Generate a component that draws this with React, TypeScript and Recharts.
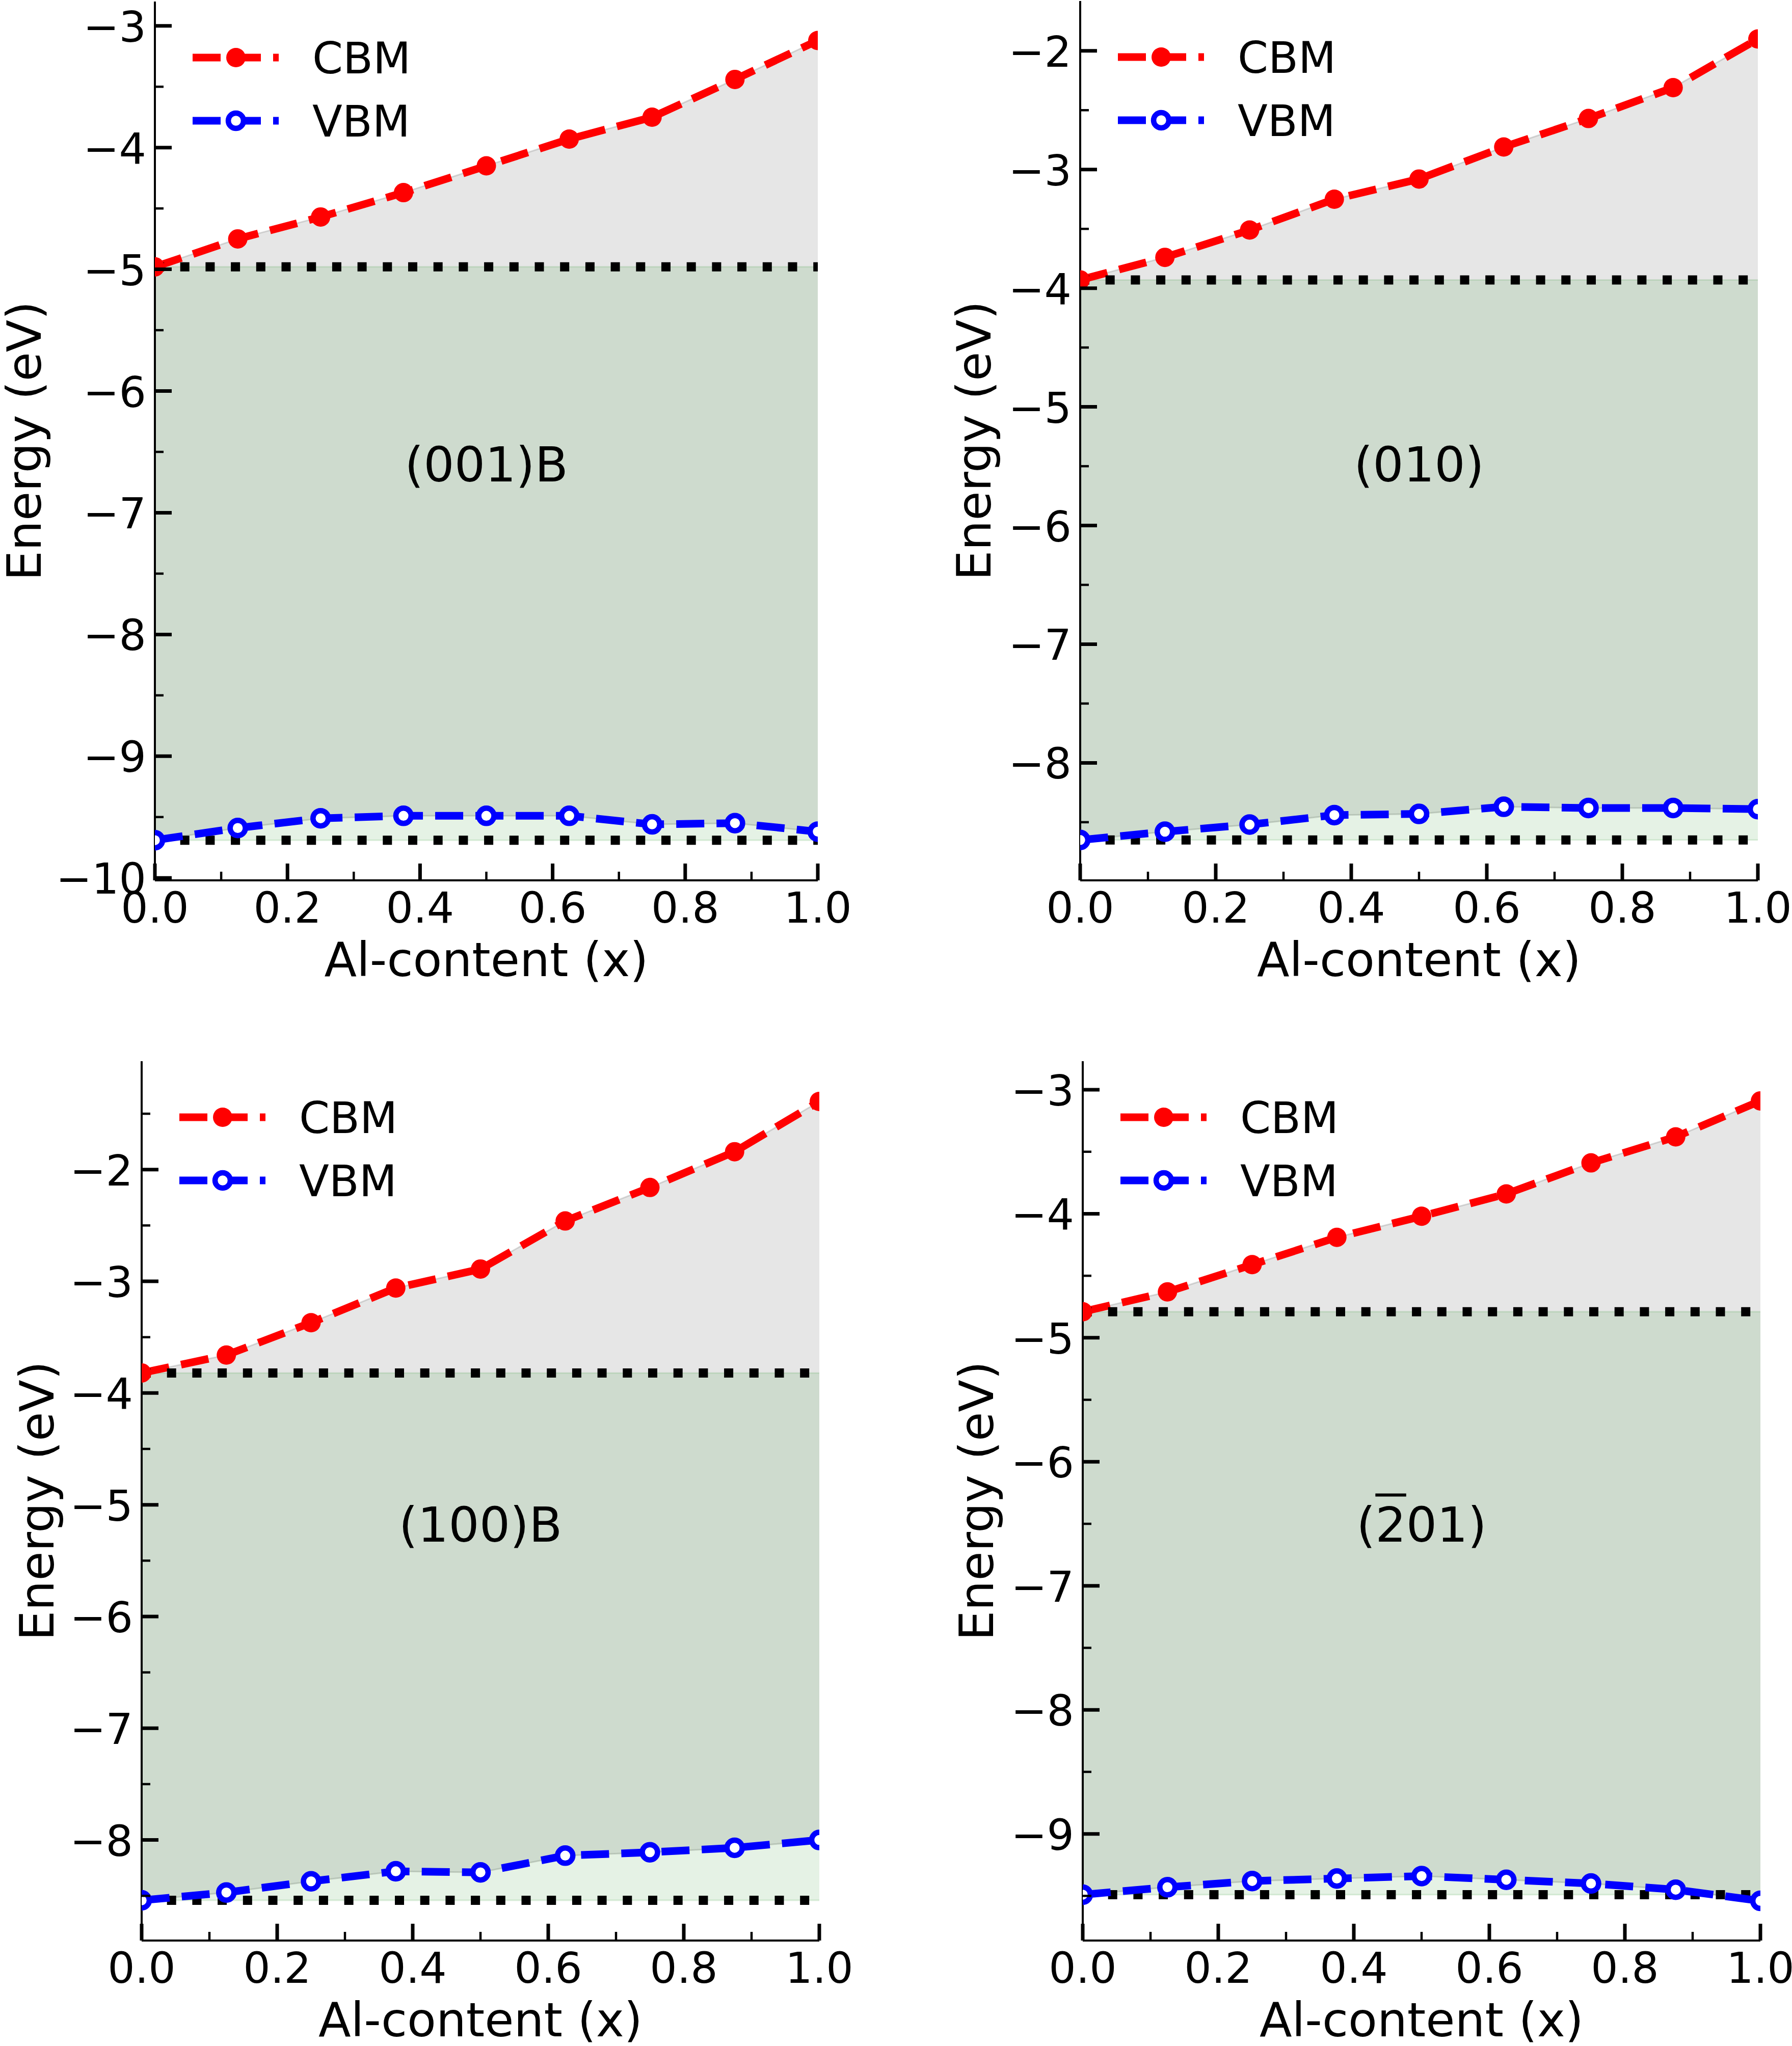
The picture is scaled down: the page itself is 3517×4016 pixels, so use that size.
import React from "react"
import { ComposedChart, Area, Line, XAxis, YAxis, Legend, Label } from "recharts"

// Al-content x for the (AlxGa1-x)2O3 supercells
const AL_CONTENT = [0, 0.125, 0.25, 0.375, 0.5, 0.625, 0.75, 0.875, 1]

// band edges (eV) per surface
const CBM_001B = [-4.98, -4.75, -4.57, -4.37, -4.15, -3.93, -3.75, -3.44, -3.12]
const VBM_001B = [-9.69, -9.59, -9.51, -9.49, -9.49, -9.49, -9.56, -9.55, -9.62]

const CBM_010 = [-3.93, -3.74, -3.51, -3.25, -3.08, -2.81, -2.57, -2.31, -1.9]
const VBM_010 = [-8.65, -8.58, -8.52, -8.44, -8.43, -8.37, -8.38, -8.38, -8.39]

const CBM_100B = [-3.82, -3.66, -3.37, -3.06, -2.89, -2.46, -2.16, -1.84, -1.39]
const VBM_100B = [-8.54, -8.47, -8.37, -8.28, -8.29, -8.14, -8.11, -8.07, -8.0]

const CBM_201 = [-4.79, -4.63, -4.41, -4.19, -4.02, -3.84, -3.59, -3.38, -3.09]
const VBM_201 = [-9.49, -9.43, -9.38, -9.36, -9.34, -9.37, -9.4, -9.45, -9.54]

// axis ranges and ticks (majors every 0.2 / 1, minors in between)
const X_TICKS = [0, 0.1, 0.2, 0.3, 0.4, 0.5, 0.6, 0.7, 0.8, 0.9, 1]

const Y_DOMAIN_001B: [number, number] = [-10.02, -2.8]
const Y_TICKS_001B = [-10, -9.5, -9, -8.5, -8, -7.5, -7, -6.5, -6, -5.5, -5, -4.5, -4, -3.5, -3]

const Y_DOMAIN_010: [number, number] = [-8.99, -1.58]
const Y_TICKS_010 = [-8.5, -8, -7.5, -7, -6.5, -6, -5.5, -5, -4.5, -4, -3.5, -3, -2.5, -2]

const Y_DOMAIN_100B: [number, number] = [-8.9, -1.03]
const Y_TICKS_100B = [-8.5, -8, -7.5, -7, -6.5, -6, -5.5, -5, -4.5, -4, -3.5, -3, -2.5, -2, -1.5]

const Y_DOMAIN_201: [number, number] = [-9.86, -2.77]
const Y_TICKS_201 = [-9.5, -9, -8.5, -8, -7.5, -7, -6.5, -6, -5.5, -5, -4.5, -4, -3.5, -3]

const FONT = '"DejaVu Sans", "Liberation Sans", sans-serif'
const RED = "#ff0000"
const BLUE = "#0000ff"
const AXIS_LINE = { stroke: "#000", strokeWidth: 4 }

const PAD_L = 340
const PAD_T = 50
const PAD_R = 90
const PAD_B = 240

type PanelCfg = {
  id: string
  title: React.ReactNode
  cbm: number[]
  vbm: number[]
  yDomain: [number, number]
  yTicks: number[]
  left: number
  top: number
  width: number
  height: number
  yLabelGap: number
}

const PANELS: PanelCfg[] = [
  {
    id: "001B",
    title: "(001)B",
    cbm: CBM_001B,
    vbm: VBM_001B,
    yDomain: Y_DOMAIN_001B,
    yTicks: Y_TICKS_001B,
    left: 304,
    top: 2.5,
    width: 1301,
    height: 1725,
    yLabelGap: 224,
  },
  {
    id: "010",
    title: "(010)",
    cbm: CBM_010,
    vbm: VBM_010,
    yDomain: Y_DOMAIN_010,
    yTicks: Y_TICKS_010,
    left: 2120,
    top: 2,
    width: 1330,
    height: 1726,
    yLabelGap: 176,
  },
  {
    id: "100B",
    title: "(100)B",
    cbm: CBM_100B,
    vbm: VBM_100B,
    yDomain: Y_DOMAIN_100B,
    yTicks: Y_TICKS_100B,
    left: 278,
    top: 2083,
    width: 1330,
    height: 1726,
    yLabelGap: 173,
  },
  {
    id: "-201",
    title: (
      <>
        (<span style={{ textDecoration: "overline", textDecorationThickness: 6 }}>2</span>01)
      </>
    ),
    cbm: CBM_201,
    vbm: VBM_201,
    yDomain: Y_DOMAIN_201,
    yTicks: Y_TICKS_201,
    left: 2125,
    top: 2083,
    width: 1330,
    height: 1726,
    yLabelGap: 176,
  },
]

const isMajorX = (v: number) => Math.abs(v * 5 - Math.round(v * 5)) < 1e-6
const isMajorY = (v: number) => Math.abs(v - Math.round(v)) < 1e-6
const fmtY = (v: number) => (v < 0 ? "\u2212" : "") + Math.abs(v)

// ticks point inward on all four sides, labels only on bottom/left
const BottomTick = ({ x, y, payload }: any) => {
  const major = isMajorX(payload.value)
  return (
    <g>
      <line x1={x} x2={x} y1={y} y2={y - (major ? 33 : 17)} stroke="#000" strokeWidth={major ? 7 : 4.5} />
      {major && (
        <text x={x} y={y + 83} textAnchor="middle" fontSize={84} fontFamily={FONT} fill="#000">
          {payload.value.toFixed(1)}
        </text>
      )}
    </g>
  )
}

const TopTick = ({ x, y, payload }: any) => {
  const major = isMajorX(payload.value)
  return <line x1={x} x2={x} y1={y} y2={y + (major ? 33 : 17)} stroke="#000" strokeWidth={major ? 7 : 4.5} />
}

const LeftTick = ({ x, y, payload }: any) => {
  const major = isMajorY(payload.value)
  return (
    <g>
      <line x1={x} x2={x + (major ? 33 : 17)} y1={y} y2={y} stroke="#000" strokeWidth={major ? 7 : 4.5} />
      {major && (
        <text x={x - 17} y={y + 31} textAnchor="end" fontSize={84} fontFamily={FONT} fill="#000">
          {fmtY(payload.value)}
        </text>
      )}
    </g>
  )
}

const RightTick = ({ x, y, payload }: any) => {
  const major = isMajorY(payload.value)
  return <line x1={x} x2={x - (major ? 33 : 17)} y1={y} y2={y} stroke="#000" strokeWidth={major ? 7 : 4.5} />
}

const LEGEND_ROWS = [
  { name: "CBM", color: RED, open: false },
  { name: "VBM", color: BLUE, open: true },
]

const LegendBox = () => (
  <svg width={460} height={260} style={{ display: "block", overflow: "visible" }}>
    {LEGEND_ROWS.map((row, i) => {
      const y = 50 + i * 124
      return (
        <g key={row.name}>
          <line x1={14} x2={183} y1={y} y2={y} stroke={row.color} strokeWidth={15} strokeDasharray="55 24" />
          {row.open ? (
            <circle cx={99} cy={y} r={15} fill="#fff" stroke={row.color} strokeWidth={10.5} />
          ) : (
            <circle cx={99} cy={y} r={19} fill={row.color} />
          )}
          <text x={249} y={y + 31} fontSize={86} fontFamily={FONT} fill="#000">
            {row.name}
          </text>
        </g>
      )
    })}
  </svg>
)

function Panel({ p }: { p: PanelCfg }) {
  const data = AL_CONTENT.map((x, i) => ({
    x,
    cbm: p.cbm[i],
    vbm: p.vbm[i],
    band: [p.vbm[i], p.cbm[i]],
    bulk: [p.vbm[0], p.cbm[0]],
    cbm0: p.cbm[0],
    vbm0: p.vbm[0],
  }))
  const w = p.width + PAD_L + PAD_R
  const h = p.height + PAD_T + PAD_B

  return (
    <>
      <div style={{ position: "absolute", left: p.left - PAD_L, top: p.top - PAD_T }}>
        <ComposedChart width={w} height={h} data={data} margin={{ top: PAD_T, right: PAD_R, bottom: 0, left: 0 }}>
          <XAxis
            xAxisId="bottom"
            dataKey="x"
            type="number"
            domain={[0, 1]}
            ticks={X_TICKS}
            interval={0}
            allowDataOverflow
            height={PAD_B}
            tickSize={0}
            tickMargin={0}
            tickLine={false}
            axisLine={AXIS_LINE}
            tick={<BottomTick />}
          >
            <Label
              content={({ viewBox }: any) => (
                <text
                  x={viewBox.x + viewBox.width / 2}
                  y={viewBox.y + 188}
                  textAnchor="middle"
                  fontSize={93}
                  fontFamily={FONT}
                  fill="#000"
                >
                  Al-content (x)
                </text>
              )}
            />
          </XAxis>
          <XAxis
            xAxisId="top"
            orientation="top"
            type="number"
            domain={[0, 1]}
            ticks={X_TICKS}
            interval={0}
            allowDataOverflow
            height={0}
            tickSize={0}
            tickMargin={0}
            tickLine={false}
            axisLine={AXIS_LINE}
            tick={<TopTick />}
          />
          <YAxis
            yAxisId="left"
            type="number"
            domain={p.yDomain}
            ticks={p.yTicks}
            interval={0}
            allowDataOverflow
            width={PAD_L}
            tickSize={0}
            tickMargin={0}
            tickLine={false}
            axisLine={AXIS_LINE}
            tick={<LeftTick />}
          >
            <Label
              content={({ viewBox }: any) => {
                const lx = viewBox.x + viewBox.width - p.yLabelGap
                const ly = viewBox.y + viewBox.height / 2
                return (
                  <text
                    x={lx}
                    y={ly}
                    transform={`rotate(-90 ${lx} ${ly})`}
                    textAnchor="middle"
                    fontSize={93}
                    fontFamily={FONT}
                    fill="#000"
                  >
                    Energy (eV)
                  </text>
                )
              }}
            />
          </YAxis>
          <YAxis
            yAxisId="right"
            orientation="right"
            type="number"
            domain={p.yDomain}
            ticks={p.yTicks}
            interval={0}
            allowDataOverflow
            width={0}
            tickSize={0}
            tickMargin={0}
            tickLine={false}
            axisLine={AXIS_LINE}
            tick={<RightTick />}
          />

          {/* gap between the alloy band edges */}
          <Area
            xAxisId="bottom"
            yAxisId="left"
            type="linear"
            dataKey="band"
            fill="#808080"
            fillOpacity={0.2}
            stroke="#808080"
            strokeOpacity={0.3}
            strokeWidth={3}
            dot={false}
            activeDot={false}
            isAnimationActive={false}
          />
          {/* gap of the x = 0 reference */}
          <Area
            xAxisId="bottom"
            yAxisId="left"
            type="linear"
            dataKey="bulk"
            fill="#008000"
            fillOpacity={0.1}
            stroke="#008000"
            strokeOpacity={0.12}
            strokeWidth={3}
            dot={false}
            activeDot={false}
            isAnimationActive={false}
          />

          <Line
            xAxisId="bottom"
            yAxisId="left"
            type="linear"
            dataKey="cbm"
            stroke={RED}
            strokeWidth={15}
            strokeDasharray="55 24"
            dot={{ r: 19, fill: RED, stroke: "none", strokeWidth: 0, strokeDasharray: "none" }}
            activeDot={false}
            isAnimationActive={false}
          />
          <Line
            xAxisId="bottom"
            yAxisId="left"
            type="linear"
            dataKey="cbm0"
            stroke="#000"
            strokeWidth={18}
            strokeDasharray="18 31.7"
            dot={false}
            activeDot={false}
            isAnimationActive={false}
          />
          <Line
            xAxisId="bottom"
            yAxisId="left"
            type="linear"
            dataKey="vbm0"
            stroke="#000"
            strokeWidth={18}
            strokeDasharray="18 31.7"
            dot={false}
            activeDot={false}
            isAnimationActive={false}
          />
          <Line
            xAxisId="bottom"
            yAxisId="left"
            type="linear"
            dataKey="vbm"
            stroke={BLUE}
            strokeWidth={15}
            strokeDasharray="55 24"
            dot={{ r: 15, fill: "#fff", stroke: BLUE, strokeWidth: 10.5, strokeDasharray: "none" }}
            activeDot={false}
            isAnimationActive={false}
          />

          <Legend
            layout="horizontal"
            verticalAlign="middle"
            align="center"
            content={() => <LegendBox />}
            wrapperStyle={{ left: PAD_L + 60, top: PAD_T + 60, width: "auto", height: "auto" }}
          />
        </ComposedChart>
      </div>
      <div
        style={{
          position: "absolute",
          left: p.left + p.width / 2,
          top: p.top + p.height * 0.527,
          transform: "translate(-50%, -50%)",
          fontFamily: FONT,
          fontSize: 95,
          lineHeight: 1,
          whiteSpace: "nowrap",
          color: "#000",
        }}
      >
        {p.title}
      </div>
    </>
  )
}

export default function App() {
  return (
    <div
      style={{
        position: "absolute",
        left: 0,
        top: 0,
        width: 3517,
        height: 4016,
        background: "#fff",
        overflow: "hidden",
      }}
    >
      {PANELS.map((p) => (
        <Panel key={p.id} p={p} />
      ))}
    </div>
  )
}
